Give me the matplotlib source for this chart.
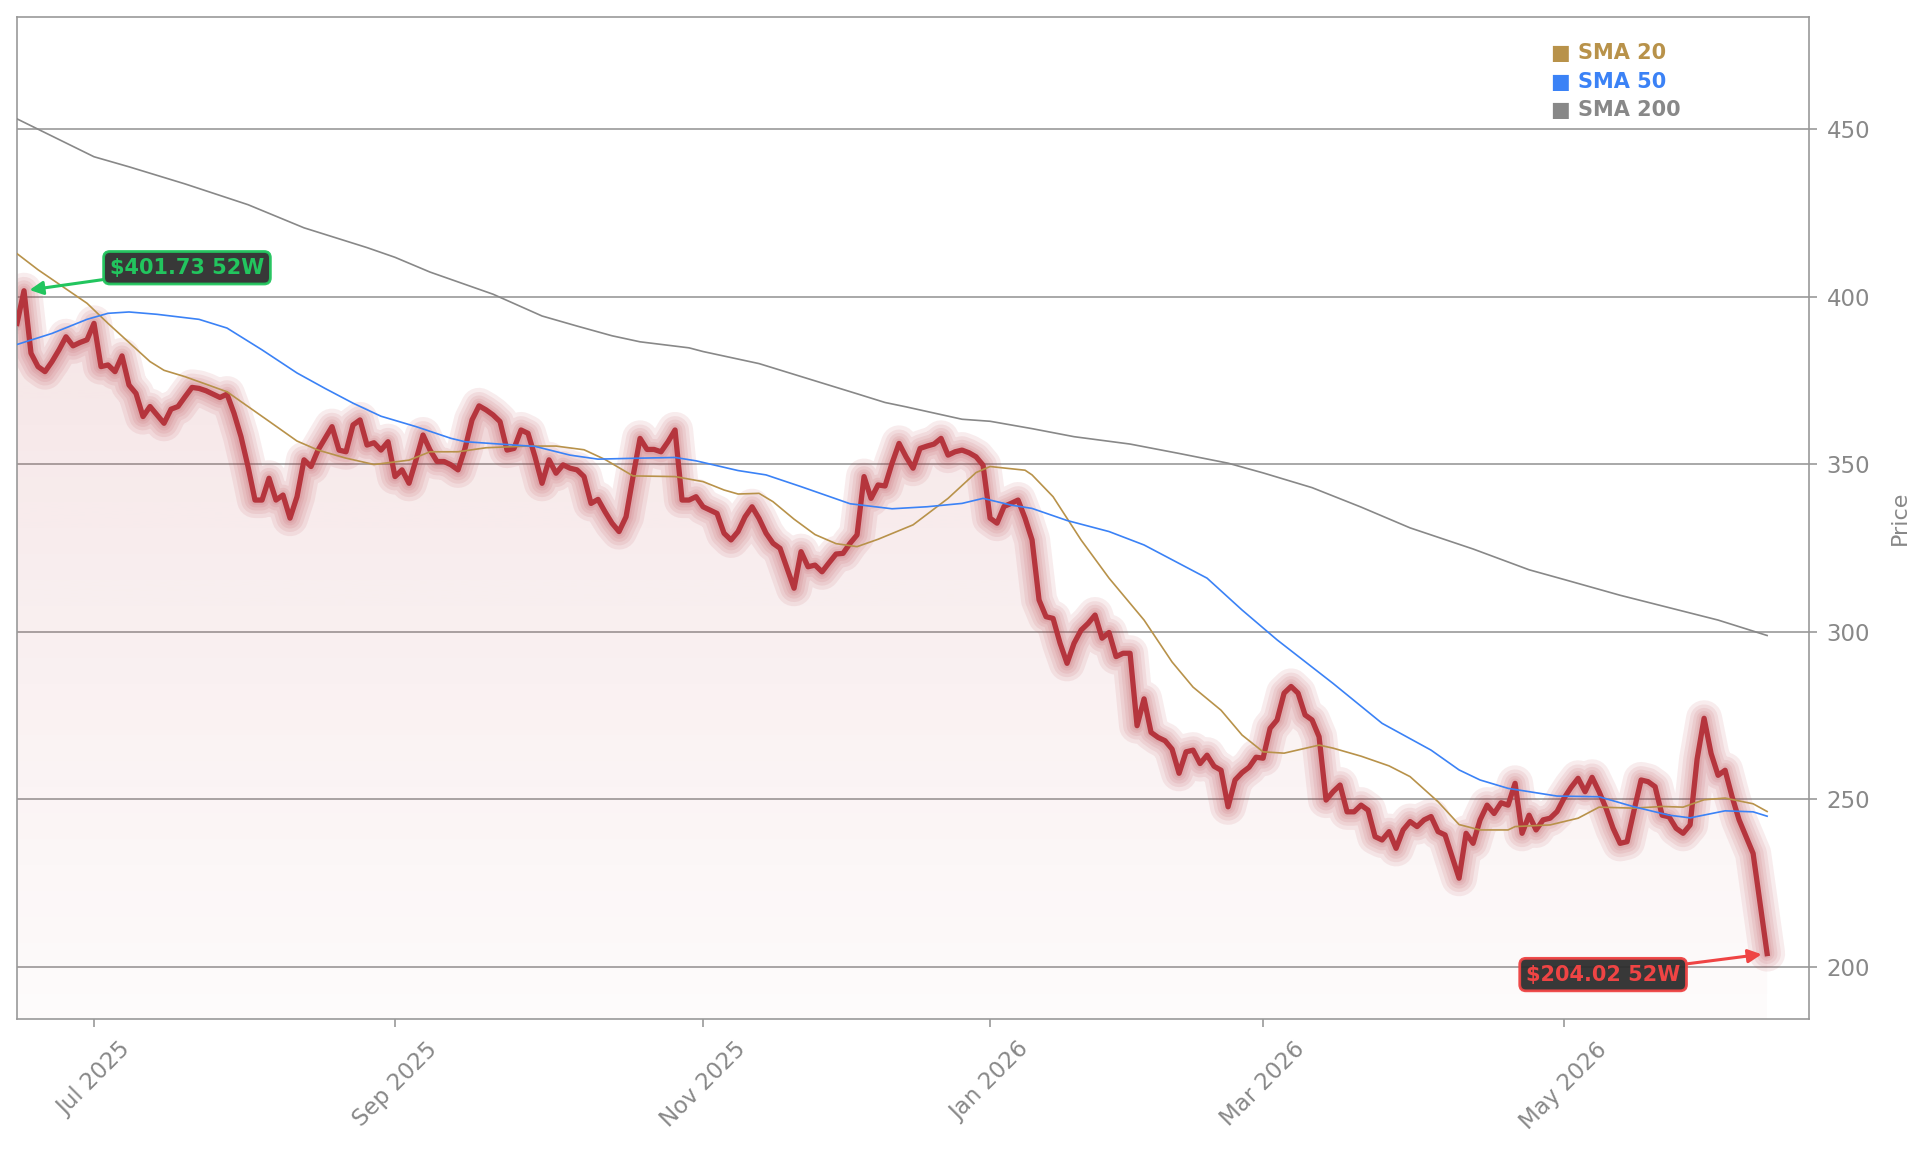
import numpy as np
import pandas as pd
import matplotlib
matplotlib.use('Agg')
import matplotlib.pyplot as plt
from matplotlib.patches import Polygon
from matplotlib.colors import to_rgb

# trading calendar (NYSE holidays inside the 52 week window)
holidays = ['2025-06-19', '2025-07-04', '2025-09-01', '2025-11-27', '2025-12-25',
            '2026-01-01', '2026-01-19', '2026-02-16', '2026-04-03', '2026-05-25']

# daily closes
closes = [
    392.0, 401.73, 383.1, 379.1, 377.6, 380.6, 384.1, 388.0, 385.3, 386.3,
    387.1, 392.0, 379.1, 379.6, 377.6, 382.3, 373.6, 371.1, 364.2, 367.2,
    364.7, 362.2, 366.4, 367.2, 370.1, 372.9, 372.6, 371.9, 370.9, 369.9,
    370.9, 365.2, 358.2, 349.3, 339.3, 339.3, 345.8, 339.3, 340.8, 333.9,
    340.3, 351.3, 349.3, 354.2, 357.7, 361.2, 354.2, 353.7, 361.7, 363.2,
    355.7, 356.4, 354.2, 356.7, 346.3, 348.3, 344.3, 351.3, 358.7, 354.2,
    350.8, 350.8, 349.8, 348.3, 354.7, 363.2, 367.4, 366.2, 364.7, 362.7,
    354.2, 354.7, 360.2, 359.2, 352.2, 344.3, 351.3, 347.3, 349.8, 348.8,
    348.3, 346.3, 338.3, 339.5, 335.8, 332.4, 329.9, 334.3, 346.3, 357.7,
    354.4, 354.4, 353.7, 356.7, 360.2, 339.3, 339.3, 340.3, 337.3, 336.3,
    335.3, 329.4, 327.4, 329.9, 334.3, 337.3, 333.8, 329.4, 326.4, 324.9,
    318.9, 313.0, 323.9, 319.4, 319.9, 317.9, 320.6, 323.2, 323.4, 326.4,
    328.9, 346.3, 339.8, 343.8, 343.5, 350.3, 356.2, 352.2, 348.8, 354.7,
    355.4, 356.0, 357.7, 352.7, 353.7, 354.2, 353.4, 352.2, 349.7, 333.9,
    332.4, 337.4, 338.3, 339.3, 333.9, 327.4, 309.5, 304.5, 304.0, 296.6,
    290.6, 296.6, 300.5, 302.5, 305.0, 298.1, 299.8, 292.6, 293.6, 293.6,
    272.0, 280.0, 270.0, 268.5, 267.5, 265.0, 257.8, 264.2, 264.7, 260.7,
    263.2, 259.9, 258.7, 247.8, 255.8, 258.0, 259.6, 262.6, 262.3, 271.2,
    273.7, 281.7, 283.7, 281.7, 275.2, 273.7, 268.7, 249.8, 252.3, 254.3,
    246.3, 246.3, 248.3, 246.8, 238.9, 237.9, 240.4, 235.4, 240.9, 243.4,
    241.9, 243.9, 244.9, 240.4, 239.4, 232.9, 226.5, 239.9, 236.9, 243.9,
    248.3, 245.8, 249.0, 248.3, 254.8, 239.9, 245.3, 240.9, 243.9, 244.4,
    246.4, 250.4, 253.6, 256.3, 252.3, 256.6, 252.3, 247.3, 241.4, 236.9,
    237.4, 246.8, 255.8, 255.3, 253.8, 245.3, 244.8, 241.4, 239.9, 242.4,
    262.0, 274.2, 263.7, 257.2, 258.7, 250.8, 243.9, 238.9, 233.9, 219.0,
    204.02,
]

# moving averages, read at sample days (day index, value)
sma20_day = [0, 3, 10, 13, 19, 21, 24, 30, 33, 36, 40, 43, 47, 51, 56, 59, 63, 67, 73, 77,
             81, 84, 88, 94, 98, 101, 103, 106, 108, 111, 114, 117, 120, 123, 128, 133, 137,
             139, 144, 145, 148, 152, 156, 161, 165, 168, 172, 175, 178, 181, 186, 188, 192,
             196, 199, 203, 206, 209, 213, 214, 219, 223, 226, 231, 235, 238, 241, 244, 248, 250]
sma20_val = [412.8, 408.0, 398.0, 392.0, 380.6, 378.0, 376.1, 371.6, 367.2, 362.8, 356.9, 354.2,
             351.8, 349.9, 351.2, 353.7, 353.7, 354.9, 355.4, 355.4, 354.3, 351.4, 346.5, 346.3,
             344.8, 342.3, 341.1, 341.3, 338.8, 333.6, 329.0, 326.3, 325.4, 327.6, 331.9, 339.8,
             347.5, 349.3, 348.2, 346.8, 340.3, 327.4, 316.0, 303.5, 291.0, 283.5, 276.6, 269.2,
             264.2, 263.8, 266.2, 265.3, 262.9, 260.0, 256.8, 249.3, 242.5, 240.9, 240.9, 241.9,
             242.4, 244.4, 247.7, 247.4, 247.9, 247.7, 249.9, 250.4, 248.7, 246.4]

sma50_day = [0, 5, 10, 13, 16, 20, 26, 30, 35, 40, 44, 48, 52, 57, 62, 64, 69, 74, 79, 83,
             89, 94, 97, 103, 107, 112, 119, 125, 130, 135, 138, 142, 145, 150, 156, 161, 166,
             170, 175, 180, 188, 195, 202, 206, 209, 213, 220, 226, 231, 236, 239, 244, 248, 250]
sma50_val = [385.7, 389.0, 393.2, 395.0, 395.4, 394.7, 393.2, 390.6, 384.1, 377.2, 372.6, 368.2,
             364.3, 361.2, 357.7, 356.7, 356.0, 355.3, 352.7, 351.5, 351.8, 352.0, 351.0, 348.1,
             346.8, 343.3, 338.2, 336.7, 337.3, 338.3, 339.8, 337.8, 336.8, 333.2, 329.9, 325.9,
             320.4, 316.0, 306.5, 297.6, 284.6, 272.7, 264.7, 258.8, 255.8, 253.3, 251.0, 250.8,
             247.8, 245.3, 244.5, 246.6, 246.3, 245.0]

sma200_day = [0, 11, 16, 24, 33, 41, 50, 54, 59, 68, 75, 80, 85, 89, 96, 98, 106, 113, 120,
              124, 127, 135, 139, 145, 151, 159, 166, 173, 178, 185, 192, 199, 208, 216, 221,
              229, 236, 243, 250]
sma200_val = [453.0, 441.7, 438.7, 433.6, 427.4, 420.5, 414.6, 411.7, 407.3, 400.7, 394.2, 391.2,
              388.3, 386.5, 384.7, 383.6, 380.0, 375.5, 371.0, 368.4, 367.1, 363.4, 362.8, 360.6,
              358.2, 356.0, 353.2, 350.3, 347.4, 343.0, 337.2, 331.0, 324.7, 318.5, 315.6, 310.9,
              307.2, 303.5, 298.9]

sma_labels = ['SMA 20', 'SMA 50', 'SMA 200']
sma_colors = ['#b8924a', '#3b82f6', '#888888']

price_color = '#b5353d'
grey = '#999999'
label_grey = '#888888'

n = len(closes)
dates = pd.bdate_range('2025-06-13', periods=n, freq='C', holidays=holidays)
x = np.arange(n)
y = np.array(closes)

fig = plt.figure(figsize=(19.21, 11.53), dpi=100)
ax = fig.add_axes([0.00885, 0.1162, 0.9329, 0.8691])

ylo, yhi = 184.5, 483.4

# gradient fill under the price
verts = [(0, ylo)] + list(zip(x, y)) + [(n - 1, ylo)]
clip = Polygon(verts, closed=True, facecolor='none', edgecolor='none')
ax.add_patch(clip)
rgba = np.zeros((256, 1, 4))
rgba[..., :3] = to_rgb(price_color)
rgba[..., 3] = np.linspace(0.02, 0.13, 256)[:, None]
im = ax.imshow(rgba, extent=[0, n - 1, ylo, y.max()], origin='lower',
               aspect='auto', zorder=1, interpolation='bilinear')
im.set_clip_path(clip)

# glow + price line
for lw in [26, 20, 15, 10.5, 7]:
    ax.plot(x, y, color=price_color, lw=lw, alpha=0.09, solid_capstyle='round',
            solid_joinstyle='round', zorder=2)
ax.plot(x, y, color=price_color, lw=3.8, solid_joinstyle='round', zorder=3)

# moving averages
for days, vals, c in [(sma20_day, sma20_val, sma_colors[0]),
                      (sma50_day, sma50_val, sma_colors[1]),
                      (sma200_day, sma200_val, sma_colors[2])]:
    ax.plot(days, vals, color=c, lw=1.2, zorder=4)

# 52 week high / low callouts
hi_i = int(np.argmax(y))
lo_i = int(np.argmin(y))
green = '#22c55e'
red = '#ef4444'
ax.annotate('\\$%.2f 52W' % y[hi_i], xy=(hi_i, y[hi_i]), xytext=(163, 23),
            textcoords='offset pixels', ha='center', va='center', color=green,
            fontsize=15, fontweight='bold', zorder=6,
            bbox=dict(boxstyle='round,pad=0.3', fc='#2d2d2d', ec=green, lw=2, alpha=0.95),
            arrowprops=dict(arrowstyle='-|>', color=green, lw=2.2, mutation_scale=20,
                            shrinkA=0, shrinkB=4))
ax.annotate('\\$%.2f 52W' % y[lo_i], xy=(lo_i, y[lo_i]), xytext=(-164, -21),
            textcoords='offset pixels', ha='center', va='center', color=red,
            fontsize=15, fontweight='bold', zorder=6,
            bbox=dict(boxstyle='round,pad=0.3', fc='#2d2d2d', ec=red, lw=2, alpha=0.95),
            arrowprops=dict(arrowstyle='-|>', color=red, lw=2.2, mutation_scale=20,
                            shrinkA=0, shrinkB=4))

# legend as coloured text
for k, (lab, c) in enumerate(zip(sma_labels, sma_colors)):
    ax.text(0.856, 0.9638 - k * 0.0283, '\u25a0 ' + lab, color=c, fontsize=15,
            fontweight='bold', ha='left', va='center', transform=ax.transAxes, zorder=7)

# axes styling
ax.set_xlim(0, 256)
ax.set_ylim(ylo, yhi)
ax.set_yticks([200, 250, 300, 350, 400, 450])
ax.yaxis.tick_right()
ax.yaxis.set_label_position('right')
ax.set_ylabel('Price', color=label_grey, fontsize=16, labelpad=14)

tick_pos = [i for i in range(1, n) if dates[i].month != dates[i - 1].month and dates[i].month % 2 == 1]
ax.set_xticks(tick_pos)
ax.set_xticklabels([dates[i].strftime('%b %Y') for i in tick_pos], rotation=45)

ax.tick_params(axis='both', colors=grey, labelcolor=label_grey, labelsize=16.5,
               length=5.5, width=1.2)
ax.tick_params(axis='x', pad=8)
ax.tick_params(axis='y', pad=7)
ax.grid(axis='y', color=grey, lw=1.2, zorder=0)
ax.set_axisbelow(True)
for s in ax.spines.values():
    s.set_color(grey)
    s.set_linewidth(1.2)
ax.set_facecolor('white')

fig.savefig('out.png', dpi=100)
